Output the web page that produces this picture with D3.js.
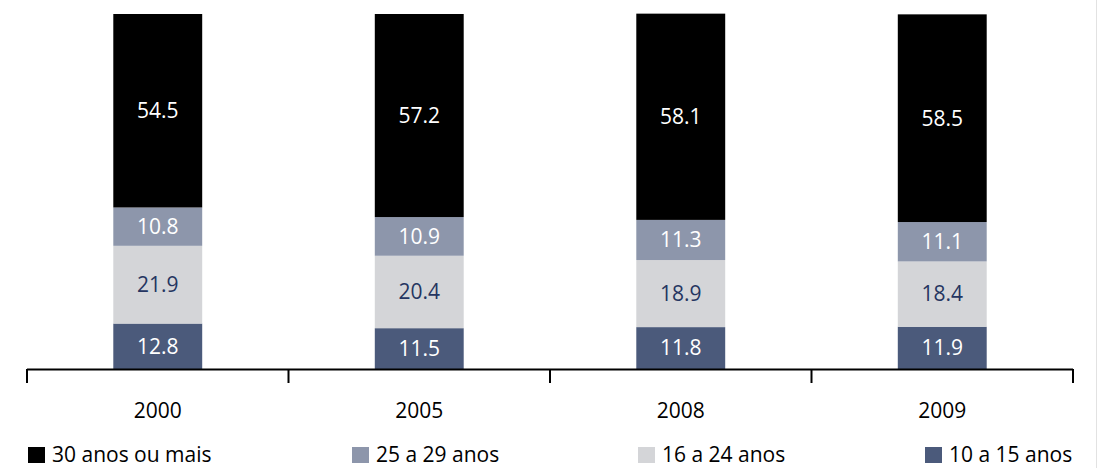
<!DOCTYPE html>
<html>
<head>
<meta charset="utf-8">
<script src="https://cdn.jsdelivr.net/npm/d3@7"></script>
<style>
  body { margin: 0; background: #fff; }
  text { font-family: "Open Sans", "Noto Sans", sans-serif; }
</style>
</head>
<body>
<svg id="chart" width="1098" height="468"></svg>
<script>
// data
const years = ["2000", "2005", "2008", "2009"];
const groups = ["10 a 15 anos", "16 a 24 anos", "25 a 29 anos", "30 anos ou mais"];
const v10a15 = [12.8, 11.5, 11.8, 11.9];
const v16a24 = [21.9, 20.4, 18.9, 18.4];
const v25a29 = [10.8, 10.9, 11.3, 11.1];
const v30mais = [54.5, 57.2, 58.1, 58.5];
const legendOrder = ["30 anos ou mais", "25 a 29 anos", "16 a 24 anos", "10 a 15 anos"];

const colors = {
    "10 a 15 anos": "#4b5a7b",
    "16 a 24 anos": "#d4d5d8",
    "25 a 29 anos": "#8d96ab",
    "30 anos ou mais": "#000000"
};
const labelColors = {
    "10 a 15 anos": "#ffffff",
    "16 a 24 anos": "#253561",
    "25 a 29 anos": "#ffffff",
    "30 anos ou mais": "#ffffff"
};

const svg = d3.select("#chart");

// build rows for stacking
const rows = years.map((y, i) => ({
    year: y,
    "10 a 15 anos": v10a15[i],
    "16 a 24 anos": v16a24[i],
    "25 a 29 anos": v25a29[i],
    "30 anos ou mais": v30mais[i]
}));
const series = d3.stack().keys(groups)(rows);

const x = d3.scaleBand()
    .domain(years)
    .range([27, 1073])
    .paddingInner(0.66)
    .paddingOuter(0.33);

const y = d3.scaleLinear()
    .domain([0, 100])
    .range([369, 14]);

// bars
const layer = svg.append("g")
    .selectAll("g")
    .data(series)
    .enter()
    .append("g")
    .attr("fill", d => colors[d.key]);

layer.selectAll("rect")
    .data(d => d)
    .enter()
    .append("rect")
    .attr("x", d => x(d.data.year))
    .attr("width", x.bandwidth())
    .attr("y", d => y(d[1]))
    .attr("height", d => y(d[0]) - y(d[1]));

// value labels
series.forEach((s) => {
    svg.append("g")
        .selectAll("text")
        .data(s)
        .enter()
        .append("text")
        .attr("x", d => x(d.data.year) + x.bandwidth() / 2)
        .attr("y", d => (y(d[0]) + y(d[1])) / 2)
        .attr("dy", "0.35em")
        .attr("text-anchor", "middle")
        .attr("font-size", 21)
        .attr("fill", labelColors[s.key])
        .text(d => d.data[s.key].toFixed(1));
});

// axis: baseline with ticks at band boundaries
const axisG = svg.append("g");
axisG.append("line")
    .attr("x1", 27).attr("x2", 1073)
    .attr("y1", 369.5).attr("y2", 369.5)
    .attr("stroke", "#000").attr("stroke-width", 2);

const bounds = years.map(yr => x(yr) - x.step() * x.paddingOuter()).concat([1073]);
axisG.selectAll("line.tick")
    .data(bounds)
    .enter()
    .append("line")
    .attr("class", "tick")
    .attr("x1", d => d).attr("x2", d => d)
    .attr("y1", 369).attr("y2", 383)
    .attr("stroke", "#000").attr("stroke-width", 2);

axisG.selectAll("text")
    .data(years)
    .enter()
    .append("text")
    .attr("x", d => x(d) + x.bandwidth() / 2)
    .attr("y", 411)
    .attr("dy", "0.35em")
    .attr("text-anchor", "middle")
    .attr("font-size", 21)
    .attr("fill", "#000")
    .text(d => d);

// legend
const legendX = [28, 352, 638, 925];
const legend = svg.append("g")
    .selectAll("g")
    .data(legendOrder)
    .enter()
    .append("g")
    .attr("transform", (d, i) => `translate(${legendX[i]},447)`);

legend.append("rect")
    .attr("width", 17).attr("height", 16)
    .attr("fill", d => colors[d]);

legend.append("text")
    .attr("x", 24)
    .attr("y", 8)
    .attr("dy", "0.35em")
    .attr("font-size", 21)
    .attr("fill", "#000")
    .text(d => d);

// faint right border
svg.append("line")
    .attr("x1", 1096.5).attr("x2", 1096.5)
    .attr("y1", 0).attr("y2", 468)
    .attr("stroke", "#e2e2e2").attr("stroke-width", 1);
</script>
</body>
</html>
